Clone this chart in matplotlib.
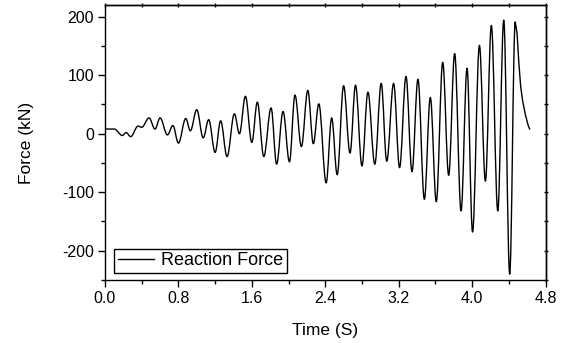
import matplotlib
matplotlib.use('Agg')
import matplotlib.pyplot as plt
from matplotlib.path import Path
from matplotlib.patches import PathPatch
from matplotlib.lines import Line2D
from matplotlib.ticker import MultipleLocator, FormatStrFormatter, NullFormatter

# Extrema (peaks / troughs) of the reaction-force history
time_s = [0.00, 0.10, 0.19, 0.23, 0.28, 0.36, 0.40, 0.48, 0.545, 0.60, 0.68, 0.74,
          0.80, 0.88, 0.93, 1.00, 1.07, 1.13, 1.20, 1.26, 1.33, 1.41, 1.465, 1.53,
          1.60, 1.66, 1.73, 1.81, 1.87, 1.94, 2.01, 2.07, 2.14, 2.21, 2.27, 2.33,
          2.41, 2.47, 2.53, 2.60, 2.67, 2.73, 2.80, 2.865, 2.94, 3.01, 3.07, 3.145,
          3.21, 3.28, 3.345, 3.41, 3.48, 3.545, 3.61, 3.68, 3.745, 3.81, 3.88, 3.945,
          4.005, 4.08, 4.145, 4.21, 4.28, 4.345, 4.41, 4.47]
force_kn = [8, 8, -3, 2, -5, 13, 11, 27, 8, 27, -2, 14,
            -16, 26, 5, 41, -7, 24, -32, 22, -39, 34, 0, 64,
            -15, 54, -39, 44, -52, 38, -48, 66, -22, 74, -17, 51,
            -84, 27, -70, 82, -33, 83, -55, 71, -52, 86, -47, 86,
            -58, 98, -65, 93, -112, 62, -116, 122, -71, 137, -132, 112,
            -168, 151, -81, 185, -132, 194, -240, 191]
# Decay after the last peak
tail_time = [4.49, 4.51, 4.53, 4.55, 4.58, 4.61, 4.63]
tail_force = [172, 120, 80, 57, 33, 15, 7]

legend_label = "Reaction Force"
x_label = "Time (S)"
y_label = "Force (kN)"

plt.rcParams['font.family'] = ['Liberation Sans', 'DejaVu Sans']
plt.rcParams['axes.unicode_minus'] = False

fig = plt.figure(figsize=(5.64, 3.43), dpi=100)
ax = fig.add_axes([105 / 564, 1 - 280 / 343, 440.5 / 564, 275 / 343])

verts = [(time_s[0], force_kn[0])]
codes = [Path.MOVETO]
for i in range(len(time_s) - 1):
    t0, f0 = time_s[i], force_kn[i]
    t1, f1 = time_s[i + 1], force_kn[i + 1]
    dt = t1 - t0
    verts += [(t0 + 0.364 * dt, f0), (t1 - 0.364 * dt, f1), (t1, f1)]
    codes += [Path.CURVE4] * 3
for t, f in zip(tail_time, tail_force):
    verts.append((t, f))
    codes.append(Path.LINETO)
ax.add_patch(PathPatch(Path(verts, codes), facecolor='none', edgecolor='black',
                       lw=1.0, joinstyle='round'))

ax.set_xlim(0, 4.8)
ax.set_ylim(-250, 220)
ax.xaxis.set_major_locator(MultipleLocator(0.8))
ax.xaxis.set_minor_locator(MultipleLocator(0.4))
ax.yaxis.set_major_locator(MultipleLocator(100))
ax.yaxis.set_minor_locator(MultipleLocator(50))
ax.xaxis.set_major_formatter(FormatStrFormatter('%.1f'))
ax.yaxis.set_major_formatter(FormatStrFormatter('%d'))

for s in ax.spines.values():
    s.set_linewidth(1.0)
ax.tick_params(which='major', direction='out', length=5, width=1.0, labelsize=11.5, pad=3)
ax.tick_params(which='minor', direction='out', length=3, width=1.0)

# short ticks on the top and right axes
top = ax.secondary_xaxis('top')
top.xaxis.set_major_locator(MultipleLocator(0.4))
top.xaxis.set_major_formatter(NullFormatter())
top.tick_params(direction='inout', length=3, width=1.0)
right = ax.secondary_yaxis('right')
right.yaxis.set_major_locator(MultipleLocator(50))
right.yaxis.set_major_formatter(NullFormatter())
right.tick_params(direction='inout', length=3, width=1.0)
for sec in (top, right):
    for s in sec.spines.values():
        s.set_linewidth(1.0)

ax.set_xlabel(x_label, fontsize=12.5, labelpad=12)
ax.set_ylabel(y_label, fontsize=12.5, labelpad=20)

handle = Line2D([], [], color='black', lw=1.0)
leg = ax.legend([handle], [legend_label], loc='lower left',
                bbox_to_anchor=((114 - 105) / 440.5, (280 - 273) / 275),
                borderaxespad=0, fancybox=False, shadow=False, framealpha=1,
                edgecolor='black', fontsize=13, handlelength=2.0,
                handletextpad=0.4, borderpad=0.2)
leg.get_frame().set_linewidth(1.0)

fig.savefig('out.png', dpi=100)
